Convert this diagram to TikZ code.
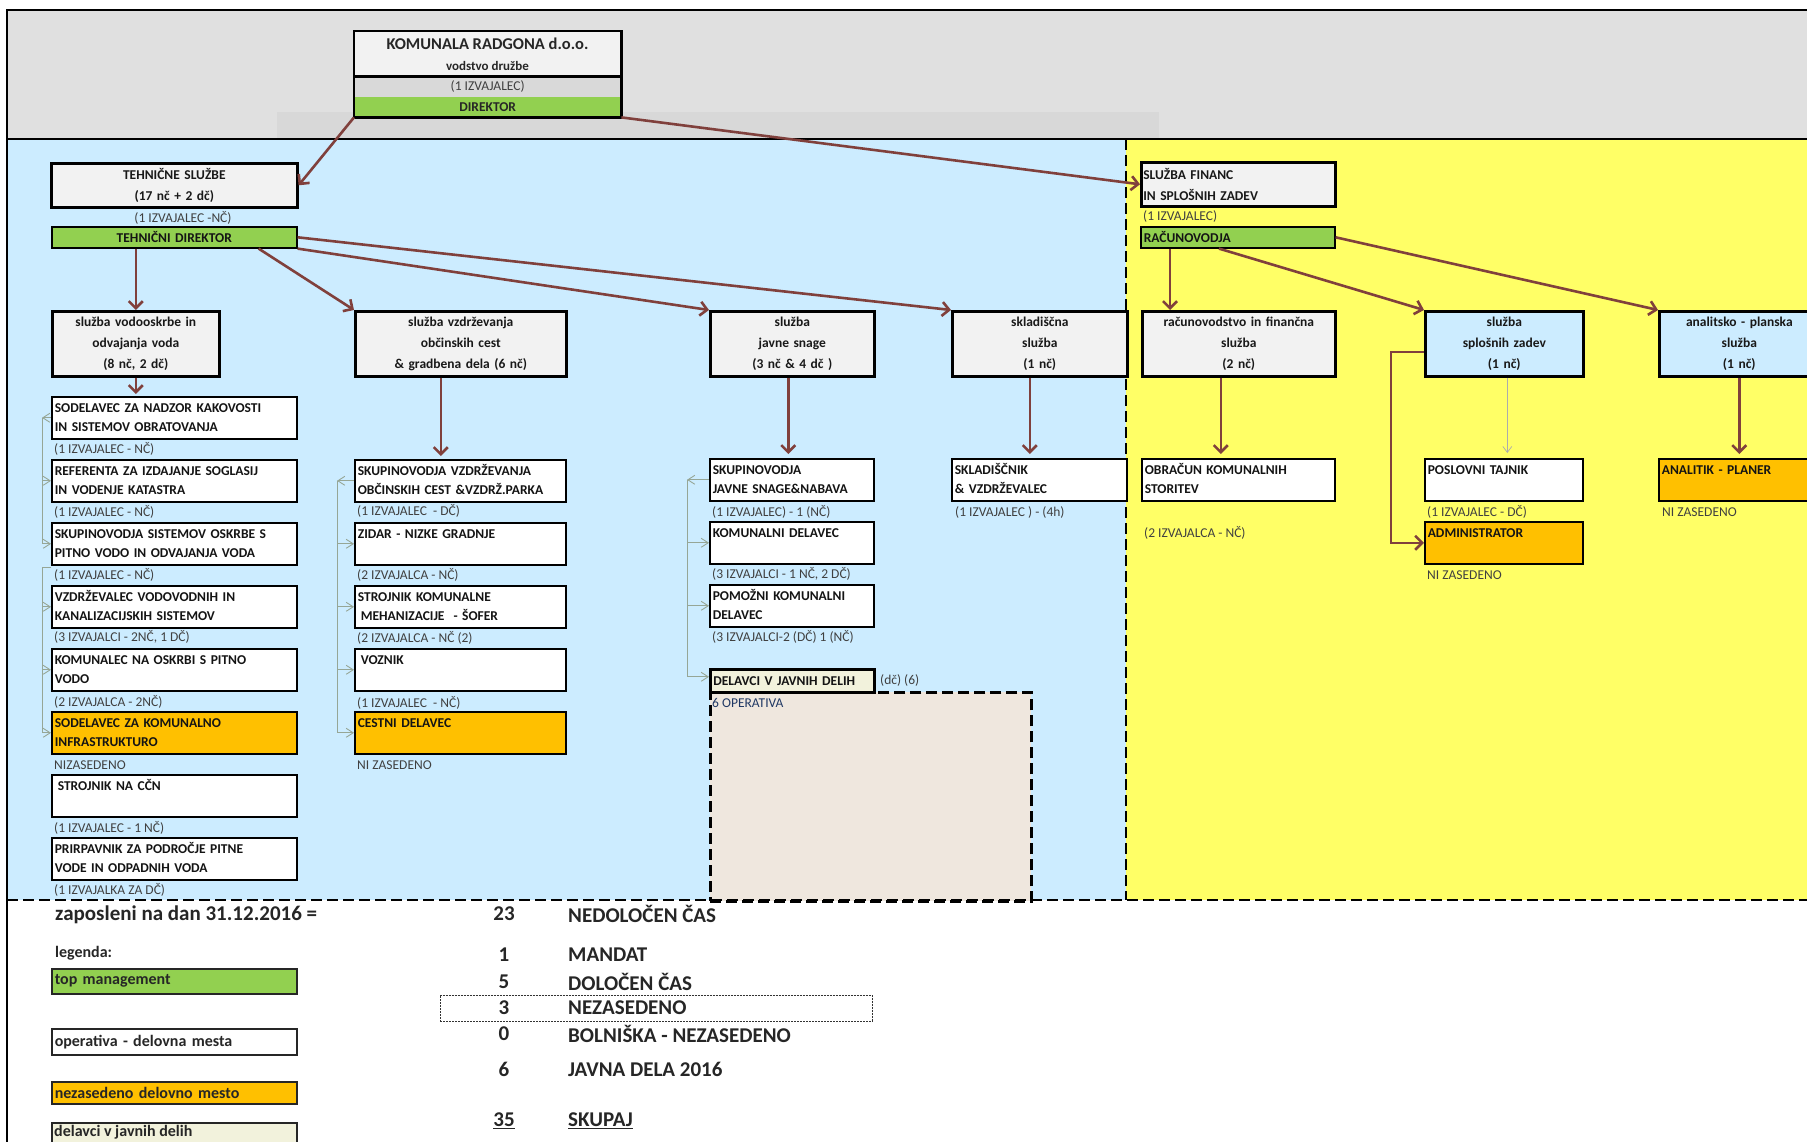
\documentclass[tikz,border=0pt]{standalone}
\usepackage{fontspec}
\setmainfont{Carlito}
\usetikzlibrary{arrows.meta,calc}

\definecolor{hdrgray}{RGB}{224,224,224}
\definecolor{bandgray}{RGB}{216,216,216}
\definecolor{skyfill}{RGB}{204,236,255}
\definecolor{lemon}{RGB}{255,255,102}
\definecolor{mgmtgreen}{RGB}{146,208,80}
\definecolor{vacant}{RGB}{255,192,0}
\definecolor{paleboxgray}{RGB}{242,242,242}
\definecolor{rowgray}{RGB}{217,217,217}
\definecolor{publicbeige}{RGB}{242,242,220}
\definecolor{sandfill}{RGB}{239,231,222}
\definecolor{linkbrown}{RGB}{128,64,60}
\definecolor{treegray}{RGB}{150,166,150}
\definecolor{notegray}{RGB}{64,64,64}
\definecolor{opnavy}{RGB}{32,56,100}

\newcommand\orgunitfont{\fontsize{13.5}{21}\selectfont\bfseries}
\newcommand\orgpostfont{\fontsize{13.5}{19}\selectfont\bfseries}
\newcommand\orgnotefont{\fontsize{13.5}{16}\selectfont}
\newcommand\orgkeyfont{\fontsize{16}{19}\selectfont\bfseries}
\newcommand\orgstatfont{\fontsize{21}{24}\selectfont\bfseries}
\newcommand\tworows[2]{\strut#1\\\strut#2}

\tikzset{
  unit/.style={draw=black, line width=2.6pt, fill=paleboxgray, anchor=north west,
    align=center, inner xsep=0pt, inner ysep=0pt, minimum height=65pt,
    font=\orgunitfont, text=black!90, text width=#1},
  post/.style={draw=black, line width=1.6pt, fill=white, anchor=north west,
    align=left, inner xsep=3pt, inner ysep=0pt, minimum height=42pt,
    font=\orgpostfont, text=black!92, text width=#1},
  note/.style={anchor=west, inner sep=0pt, font=\orgnotefont, text=notegray},
  link/.style={draw=linkbrown, line width=2.6pt, -{Straight Barb[length=7pt,width=14pt]}},
  tree/.style={draw=treegray, line width=0.9pt},
  treetip/.style={tree, -{Straight Barb[length=7pt,width=9pt]}},
  frameline/.style={line width=2.8pt, dash pattern=on 11pt off 5pt},
  keybox/.style={draw=black!85, line width=1.5pt, anchor=north west, align=left,
    inner xsep=3pt, inner ysep=0pt, text width=239pt, font=\orgkeyfont, text=black!85},
  stat/.style={inner sep=0pt, font=\orgstatfont, text=black!85},
}

\begin{document}
\begin{tikzpicture}[x=1pt,y=-1pt]
\useasboundingbox (0,0) rectangle (1807,1142);
\clip (0,0) rectangle (1807,1142);

% page areas
\fill[white] (0,0) rectangle (1807,1142);
\fill[hdrgray] (7,10) rectangle (1807,139);
\fill[bandgray] (277,112) rectangle (1159,139);
\fill[skyfill] (7,139) rectangle (1126,900);
\fill[lemon] (1126,139) rectangle (1807,900);
\draw[line width=1.2pt] (7,1142) -- (7,10) -- (1807,10);
\draw[line width=1.2pt] (7,139) -- (1807,139);

% public works area
\node[draw=black, frameline, fill=sandfill, anchor=north west, minimum width=321pt,
  minimum height=209pt, inner sep=0pt] (pubarea) at (709,691) {};

\draw[frameline] (1126,139) -- (1126,900);
\draw[frameline] (7,900) -- (1807,900);

% management
\node[fill=paleboxgray, anchor=north west, minimum width=267pt, minimum height=45pt, inner sep=0pt] (komtop) at (354,31) {};
\node[fill=rowgray, anchor=north west, minimum width=267pt, minimum height=21pt, inner sep=0pt,
  font=\orgnotefont, text=notegray] (komizv) at (354,76) {(1 IZVAJALEC)};
\node[fill=mgmtgreen, anchor=north west, minimum width=267pt, minimum height=20pt, inner sep=0pt,
  font=\orgpostfont, text=black!85] (komdir) at (354,97) {DIREKTOR};
\draw[line width=2.8pt] (komtop.north west) rectangle (komdir.south east);
\draw[line width=2.4pt] (komtop.south west) -- (komtop.south east);
\node[font=\fontsize{16.5}{20}\selectfont\bfseries, text=black!85, inner sep=0pt] (komname) at (487.5,44) {KOMUNALA RADGONA d.o.o.};
\node[font=\fontsize{13}{16}\selectfont\bfseries, text=black!85, inner sep=0pt] (komsub) at (487.5,66) {vodstvo družbe};

% technical services head
\node[unit=246pt, minimum height=44pt] (teh) at (50,162) {TEHNIČNE SLUŽBE\\(17 nč + 2 dč)};
\node[note, anchor=center] (tehnote) at (183,218) {(1 IZVAJALEC -NČ)};
\node[post=239pt, fill=mgmtgreen, minimum height=21pt, align=center] (td) at (51,226) {TEHNIČNI DIREKTOR};

% finance head
\node[unit=194pt, minimum height=44pt, align=left, font=\fontsize{13.5}{21}\selectfont\bfseries] (fin) at (1140,161) {\hspace*{2pt}SLUŽBA FINANC\\\hspace*{2pt}IN SPLOŠNIH ZADEV};
\node[note] (finnote) at (1143,216) {(1 IZVAJALEC)};
\node[post=188pt, fill=mgmtgreen, minimum height=21pt] (rcd) at (1140,226) {RAČUNOVODJA};

% services
\node[unit=167pt] (vodo) at (51,310) {služba vodooskrbe in\\odvajanja voda\\(8 nč, 2 dč)};
\node[unit=211pt] (vzdr) at (354,310) {služba vzdrževanja\\občinskih cest\\\& gradbena dela (6 nč)};
\node[unit=164pt] (javne) at (709,310) {služba\\javne snage\\(3 nč \& 4 dč )};
\node[unit=175pt] (sklad) at (951,310) {skladiščna\\služba\\(1 nč)};
\node[unit=193pt] (rfs) at (1141,310) {računovodstvo in finančna\\služba\\(2 nč)};
\node[unit=158pt, fill=skyfill] (spl) at (1424,310) {služba\\splošnih zadev\\(1 nč)};
\node[unit=160pt, fill=skyfill] (ana) at (1658,310) {analitsko - planska\\služba\\(1 nč)};

% water supply posts
\node[post=239pt] (c1a) at (51,396) {\tworows{SODELAVEC ZA NADZOR KAKOVOSTI}{IN SISTEMOV OBRATOVANJA}};
\node[post=239pt] (c1b) at (51,459) {\tworows{REFERENTA ZA IZDAJANJE SOGLASIJ}{IN VODENJE KATASTRA}};
\node[post=239pt] (c1c) at (51,522) {\tworows{SKUPINOVODJA SISTEMOV OSKRBE S}{PITNO VODO IN ODVAJANJA VODA}};
\node[post=239pt] (c1d) at (51,585) {\tworows{VZDRŽEVALEC VODOVODNIH IN}{KANALIZACIJSKIH SISTEMOV}};
\node[post=239pt] (c1e) at (51,648) {\tworows{KOMUNALEC NA OSKRBI S PITNO}{VODO}};
\node[post=239pt, fill=vacant] (c1f) at (51,711) {\tworows{SODELAVEC ZA KOMUNALNO}{INFRASTRUKTURO}};
\node[post=239pt] (c1g) at (51,774) {\tworows{\hspace*{3pt}STROJNIK NA CČN}{}};
\node[post=239pt] (c1h) at (51,837) {\tworows{PRIRPAVNIK ZA PODROČJE PITNE}{VODE IN ODPADNIH VODA}};
\node[note] at (54,449) {(1 IZVAJALEC - NČ)};
\node[note] at (54,512) {(1 IZVAJALEC - NČ)};
\node[note] at (54,575) {(1 IZVAJALEC - NČ)};
\node[note] at (54,637) {(3 IZVAJALCI - 2NČ, 1 DČ)};
\node[note] at (54,702) {(2 IZVAJALCA - 2NČ)};
\node[note] at (54,765) {NIZASEDENO};
\node[note] at (54,828) {(1 IZVAJALEC - 1 NČ)};
\node[note] at (54,890) {(1 IZVAJALKA ZA DČ)};

% road maintenance posts
\node[post=205pt] (c2a) at (354,459) {\tworows{SKUPINOVODJA VZDRŽEVANJA}{OBČINSKIH CEST \&VZDRŽ.PARKA}};
\node[post=205pt] (c2b) at (354,522) {\tworows{ZIDAR - NIZKE GRADNJE}{}};
\node[post=205pt] (c2c) at (354,585) {\tworows{STROJNIK KOMUNALNE}{\hspace*{3pt}MEHANIZACIJE\ \ - ŠOFER}};
\node[post=205pt] (c2d) at (354,648) {\tworows{\hspace*{3pt}VOZNIK}{}};
\node[post=205pt, fill=vacant] (c2e) at (354,711) {\tworows{CESTNI DELAVEC}{}};
\node[note] at (357,511) {(1 IZVAJALEC\ \ - DČ)};
\node[note] at (357,575) {(2 IZVAJALCA - NČ)};
\node[note] at (357,638) {(2 IZVAJALCA - NČ (2)};
\node[note] at (357,703) {(1 IZVAJALEC\ \ - NČ)};
\node[note] at (357,765) {NI ZASEDENO};

% public cleaning posts
\node[post=158pt] (c3a) at (709,458) {\tworows{SKUPINOVODJA}{JAVNE SNAGE\&NABAVA}};
\node[post=158pt] (c3b) at (709,521) {\tworows{KOMUNALNI DELAVEC}{}};
\node[post=158pt] (c3c) at (709,584) {\tworows{POMOŽNI KOMUNALNI}{DELAVEC}};
\node[post=158pt, fill=publicbeige, line width=2.6pt, minimum height=23pt] (pubdel) at (709,668) {DELAVCI V JAVNIH DELIH};
\node[note] at (712,512) {(1 IZVAJALEC) - 1 (NČ)};
\node[note] at (712,574) {(3 IZVAJALCI - 1 NČ, 2 DČ)};
\node[note] at (712,637) {(3 IZVAJALCI-2 (DČ) 1 (NČ)};
\node[note] (pubnote) at (880,680) {(dč) (6)};
\node[note, text=opnavy] (pubops) at (712,703) {6 OPERATIVA};

% storage post
\node[post=169pt] (c4a) at (951,458) {\tworows{SKLADIŠČNIK}{\& VZDRŽEVALEC}};
\node[note] at (955,512) {(1 IZVAJALEC ) - (4h)};

% finance and general affairs posts
\node[post=187pt] (obr) at (1141,458) {\tworows{OBRAČUN KOMUNALNIH}{STORITEV}};
\node[note] at (1144,533) {(2 IZVAJALCA - NČ)};
\node[post=152pt] (taj) at (1424,458) {\tworows{POSLOVNI TAJNIK}{}};
\node[note] at (1427,512) {(1 IZVAJALEC - DČ)};
\node[post=152pt, fill=vacant] (adm) at (1424,521) {\tworows{ADMINISTRATOR}{}};
\node[note] at (1427,575) {NI ZASEDENO};
\node[post=154pt, fill=vacant] (anl) at (1658,458) {\tworows{ANALITIK - PLANER}{}};
\node[note] at (1662,512) {NI ZASEDENO};

% reporting lines
\draw[link] (komdir.south west) -- (teh.east);
\draw[link] (komdir.south east) -- (fin.west);
\draw[link] (vodo.north |- td.south) -- (vodo.north);
\draw[link] ([xshift=-39pt]td.south east) -- (vzdr.north west);
\draw[link] (td.south east) -- (javne.north west);
\draw[link] (td.east) -- (sklad.north west);
\draw[link, shorten >=2pt] (vodo.south) -- (vodo.south |- c1a.north);
\draw[link, shorten >=3pt] ([xshift=-20pt]vzdr.south) -- ([xshift=-20pt]vzdr.south |- c2a.north);
\draw[link, shorten >=4pt] ([xshift=-4pt]javne.south) -- ([xshift=-4pt]javne.south |- c3a.north);
\draw[link, shorten >=4pt] ([xshift=-10pt]sklad.south) -- ([xshift=-10pt]sklad.south |- c4a.north);
\draw[link] ([xshift=30pt]rcd.south west) -- ([xshift=30pt]rcd.south west |- rfs.north);
\draw[link] ([xshift=79pt]rcd.south west) -- (spl.north west);
\draw[link] (rcd.east) -- (ana.north west);
\draw[link, shorten >=4pt] ([xshift=-18pt]rfs.south) -- ([xshift=-18pt]rfs.south |- obr.north);
\draw[link, shorten >=4pt] (ana.south) -- (ana.south |- anl.north);
\draw[draw=gray!65, line width=0.7pt, -{Straight Barb[length=6pt,width=9pt]}, shorten >=5pt]
  ([xshift=3pt]spl.south) -- ([xshift=3pt]spl.south |- taj.north);
\draw[link] ([yshift=-8pt]spl.west) -- ++(-33pt,0pt) |- (adm.west);

% post trees, water supply
\draw[treetip] (c1a.west) -- ++(-9pt,0pt) coordinate (t1top);
\draw[tree] (t1top) -- (t1top |- c1c.west);
\draw[treetip] (t1top |- c1b.west) -- (c1b.west);
\draw[treetip] (t1top |- c1c.west) -- (c1c.west);
\draw[tree] ([yshift=-2pt]c1c.south west) -- ++(-9pt,0pt) coordinate (t1mid) -- (t1mid |- c1f.west);
\draw[treetip] (t1mid |- c1d.west) -- (c1d.west);
\draw[treetip] (t1mid |- c1e.west) -- (c1e.west);
\draw[treetip] (t1mid |- c1f.west) -- (c1f.west);

% post trees, roads
\draw[treetip] (c2a.west) -- ++(-17pt,0pt) coordinate (t2top);
\draw[tree] (t2top) -- (t2top |- c2e.west);
\draw[treetip] (t2top |- c2b.west) -- (c2b.west);
\draw[treetip] (t2top |- c2c.west) -- (c2c.west);
\draw[treetip] (t2top |- c2d.west) -- (c2d.west);
\draw[treetip] (t2top |- c2e.west) -- (c2e.west);

% post trees, public cleaning
\draw[treetip] (c3a.west) -- ++(-22pt,0pt) coordinate (t3top);
\draw[tree] (t3top) -- ([yshift=4pt]t3top |- pubdel.west);
\draw[treetip] (t3top |- c3b.west) -- (c3b.west);
\draw[treetip] (t3top |- c3c.west) -- (c3c.west);
\draw[treetip] ([yshift=4pt]t3top |- pubdel.west) -- ([yshift=4pt]pubdel.west);

% staff summary
\node[anchor=west, inner sep=0pt, font=\orgstatfont, text=black!85] (asof) at (55,915) {zaposleni na dan 31.12.2016 =};
\node[anchor=west, inner sep=0pt, font=\orgkeyfont, text=black!85] (legend) at (55,953) {legenda:};
\node[keybox, fill=mgmtgreen, minimum height=25pt] (key1) at (51,968) {top management};
\node[keybox, fill=white, minimum height=26pt] (key2) at (51,1028) {operativa - delovna mesta};
\node[keybox, fill=vacant, minimum height=22pt] (key3) at (51,1081) {nezasedeno delovno mesto};
\node[keybox, fill=publicbeige, minimum height=30pt] (key4) at (51,1122) {};
\node[anchor=west, inner sep=0pt, font=\orgkeyfont, text=black!85] (key4text) at (54,1132) {delavci v javnih delih};

\node[draw=black!80, line width=0.8pt, dash pattern=on 2pt off 1pt, anchor=north west,
  minimum width=432pt, minimum height=26pt, inner sep=0pt] (vacframe) at (440,995) {};

\node[stat] (n1) at (504,914) {23};
\node[stat, anchor=west] (s1) at (568,914) {NEDOLOČEN ČAS};
\node[stat] (n2) at (504,955) {1};
\node[stat, anchor=west] (s2) at (568,955) {MANDAT};
\node[stat] (n3) at (504,982) {5};
\node[stat, anchor=west] (s3) at (568,982) {DOLOČEN ČAS};
\node[stat] (n4) at (504,1008) {3};
\node[stat, anchor=west] (s4) at (568,1008) {NEZASEDENO};
\node[stat] (n5) at (504,1034) {0};
\node[stat, anchor=west] (s5) at (568,1034) {BOLNIŠKA - NEZASEDENO};
\node[stat] (n6) at (504,1069) {6};
\node[stat, anchor=west] (s6) at (568,1069) {JAVNA DELA 2016};
\node[stat] (n7) at (504,1121) {\underline{35}};
\node[stat, anchor=west] (s7) at (568,1121) {\underline{SKUPAJ}};
\end{tikzpicture}
\end{document}
